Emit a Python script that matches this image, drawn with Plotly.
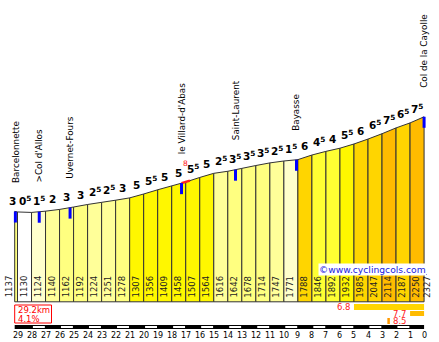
import numpy as np
import plotly.graph_objects as go

# ---------------- data ----------------
start_km = 29.2
km_marks = list(range(29, -1, -1))            # 29 ... 0 km to the top
positions = [start_km] + km_marks             # profile points (km to go)
altitudes = [1137, 1130, 1124, 1140, 1162, 1192, 1224, 1251, 1278, 1307,
             1356, 1409, 1458, 1507, 1564, 1616, 1642, 1678, 1714, 1747,
             1771, 1788, 1846, 1892, 1932, 1985, 2047, 2114, 2187, 2250, 2327]
gradients = [3, 0.5, 1.5, 2, 3, 3, 2.5, 2.5, 3, 5, 5.5, 5, 5, 5.5, 5,
             2.5, 3.5, 3.5, 3.5, 2.5, 1.5, 6, 4.5, 4, 5.5, 6, 6.5, 7.5, 6.5, 7.5]
place_names = ["Barcelonnette", ">Col d'Allos", "Uvernet-Fours", "le Villard-d'Abas",
               "Saint-Laurent", "Bayasse", "Col de la Cayolle"]
place_km = [29.15, 27.45, 25.25, 17.3, 13.45, 9.1, 0.0]
total_length = "29.2km"
avg_gradient = "4.1%"
steep_values = [6.8, 7.7, 8.5]
steep_from = [5.0, 1.0, 2.62]
steep_to = [0.0, 0.0, 2.44]
steep_point_km = [17.3, 16.7]
steep_point_label = "8"
site = "©www.cyclingcols.com"

# ---------------- layout helpers ----------------
W, H = 439, 342
x_range = [30.248, -1.064]
y_range = [-505.7, 3796.0]
PXY = (y_range[1] - y_range[0]) / H       # metres per pixel
PXX = (x_range[0] - x_range[1]) / W       # km per pixel


def alt_at_py(py):
    return y_range[1] - py * PXY


def km_at_px(px):
    return x_range[0] - px * PXX


xp = positions[::-1]
fp = altitudes[::-1]


def alt_at(km):
    return float(np.interp(km, xp, fp))


def grad_color(g):
    if g < 1:
        return "#FFFFFF"
    if g < 2:
        return "#FFFFCC"
    if g < 3:
        return "#FFFF99"
    if g < 4:
        return "#FFFF80"
    if g < 5:
        return "#FFFF33"
    if g < 6:
        return "#FFF700"
    if g < 7:
        return "#FFD500"
    if g < 8:
        return "#FFBB00"
    return "#FF9900"


FONT = "DejaVu Sans"
fig = go.Figure()

# profile segments (trapezoids following the road)
for i in range(len(positions) - 1):
    x0, x1 = positions[i], positions[i + 1]
    a0, a1 = altitudes[i], altitudes[i + 1]
    fig.add_trace(go.Scatter(
        x=[x0, x0, x1, x1, x0], y=[0, a0, a1, 0, 0],
        mode="lines", fill="toself", fillcolor=grad_color(gradients[i]),
        line=dict(color="#333333", width=1), hoverinfo="skip"))

# steepest point marker on the road
sx = np.linspace(steep_point_km[0], steep_point_km[1], 5)
fig.add_trace(go.Scatter(x=sx, y=[alt_at(v) for v in sx], mode="lines",
                         line=dict(color="#FF2020", width=2.5), hoverinfo="skip"))

# place markers
mx, my = [], []
for k in place_km:
    a = alt_at(k)
    mx += [k, k, None]
    my += [a, a - 11 * PXY, None]
fig.add_trace(go.Scatter(x=mx, y=my, mode="lines",
                         line=dict(color="#0000FF", width=3), hoverinfo="skip"))

# km scale bar
yb0, yb1 = alt_at_py(329), alt_at_py(325)
fig.add_trace(go.Scatter(x=[start_km, start_km, 0, 0, start_km], y=[yb0, yb1, yb1, yb0, yb0],
                         mode="lines", fill="toself", fillcolor="#000000",
                         line=dict(width=0, color="#000000"), hoverinfo="skip"))
dx_, dy_ = [], []
yw0, yw1 = alt_at_py(328), alt_at_py(326)
for k in km_marks:
    if k > 0 and k % 2 == 0:
        dx_ += [k - 0.1, k - 0.1, k - 0.95, k - 0.95, k - 0.1, None]
        dy_ += [yw0, yw1, yw1, yw0, yw0, None]
fig.add_trace(go.Scatter(x=dx_, y=dy_, mode="lines", fill="toself", fillcolor="#FFFFFF",
                         line=dict(width=0, color="#FFFFFF"), hoverinfo="skip"))

# steepest-section bars
steep_rows = [(304, 310), (311, 316), (318, 324)]
for v, f, t, (r0, r1) in zip(steep_values, steep_from, steep_to, steep_rows):
    ya, yb = alt_at_py(r1), alt_at_py(r0)
    fig.add_trace(go.Scatter(x=[f, f, t, t, f], y=[ya, yb, yb, ya, ya], mode="lines",
                             fill="toself", fillcolor=grad_color(v),
                             line=dict(width=0, color="rgba(0,0,0,0)"), hoverinfo="skip"))

# summary box outline
bx0, bx1 = start_km, km_at_px(51.5)
by0, by1 = alt_at_py(323), alt_at_py(305)
fig.add_trace(go.Scatter(x=[bx0, bx0, bx1, bx1, bx0], y=[by0, by1, by1, by0, by0],
                         mode="lines", line=dict(color="#FF0000", width=1), hoverinfo="skip"))

# site underline
ul = alt_at_py(274.5)
fig.add_trace(go.Scatter(x=[km_at_px(320), km_at_px(427)], y=[ul, ul], mode="lines",
                         line=dict(color="#2020E0", width=1), hoverinfo="skip"))

ann = []
# gradient labels
for i in range(len(positions) - 1):
    g = gradients[i]
    txt = str(int(g)) + ("<sup>5</sup>" if g % 1 else "")
    xm = (positions[i] + positions[i + 1]) / 2
    am = (altitudes[i] + altitudes[i + 1]) / 2
    ann.append(dict(x=xm, y=am, text=txt, showarrow=False, xanchor="center", yanchor="bottom",
                    yshift=3, xshift=(-4 if i == 0 else 0),
                    font=dict(family=FONT, size=10.5, color="#000000", weight="bold")))

# altitude labels
for i, (p, a) in enumerate(zip(positions, altitudes)):
    if i == 0:
        xk, xs = p + 0.44, 0
    elif i == len(positions) - 1:
        xk, xs = p - 0.21, 0
    else:
        xk, xs = p - 0.5, -1
    ann.append(dict(x=xk, y=0, text=str(a), textangle=-90, showarrow=False,
                    xanchor="center", yanchor="bottom", yshift=2, xshift=xs,
                    font=dict(family=FONT, size=8.5, color="#222222")))

# place labels
for name, k in zip(place_names, place_km):
    ann.append(dict(x=k, y=alt_at(k), text=name, textangle=-90, showarrow=False,
                    xanchor="center", yanchor="bottom", yshift=27,
                    font=dict(family=FONT, size=8.8, color="#000000")))

# steep point label
ann.append(dict(x=sum(steep_point_km) / 2, y=alt_at(sum(steep_point_km) / 2), text=steep_point_label,
                showarrow=False, xanchor="center", yanchor="bottom", yshift=12,
                font=dict(family=FONT, size=7.5, color="#FF2020")))

# km labels
for k in km_marks:
    ann.append(dict(x=k, y=alt_at_py(335.5), text=str(k), showarrow=False,
                    xanchor="center", yanchor="middle",
                    font=dict(family=FONT, size=8, color="#000000")))

# steep value labels
for j, (v, f, t, (r0, r1)) in enumerate(zip(steep_values, steep_from, steep_to, steep_rows)):
    yc = alt_at_py((r0 + r1) / 2)
    if j == 2:
        ann.append(dict(x=t, y=yc, text=str(v), showarrow=False, xanchor="left", yanchor="middle",
                        xshift=1, font=dict(family=FONT, size=8.5, color="#FF2020")))
    else:
        ann.append(dict(x=f, y=yc, text=str(v), showarrow=False, xanchor="right", yanchor="middle",
                        xshift=-1, font=dict(family=FONT, size=8.5, color="#FF2020")))

# summary box texts
for txt, py in ((total_length, 309.5), (avg_gradient, 318.5)):
    ann.append(dict(x=start_km, y=alt_at_py(py), text=txt, showarrow=False,
                    xanchor="left", yanchor="middle", xshift=1,
                    font=dict(family=FONT, size=8.5, color="#FF0000")))

# site watermark
ann.append(dict(x=0, y=alt_at_py(269), text=site, showarrow=False, xanchor="right",
                yanchor="middle", xshift=3, bgcolor="#FFFFFF", borderpad=0,
                font=dict(family=FONT, size=9.2, color="#2020E0")))

fig.update_layout(
    width=W, height=H, margin=dict(l=0, r=0, t=0, b=0),
    paper_bgcolor="#FFFFFF", plot_bgcolor="#FFFFFF", showlegend=False,
    xaxis=dict(range=x_range, visible=False, fixedrange=True),
    yaxis=dict(range=y_range, visible=False, fixedrange=True),
    annotations=ann,
)
fig.write_html("out.html")
